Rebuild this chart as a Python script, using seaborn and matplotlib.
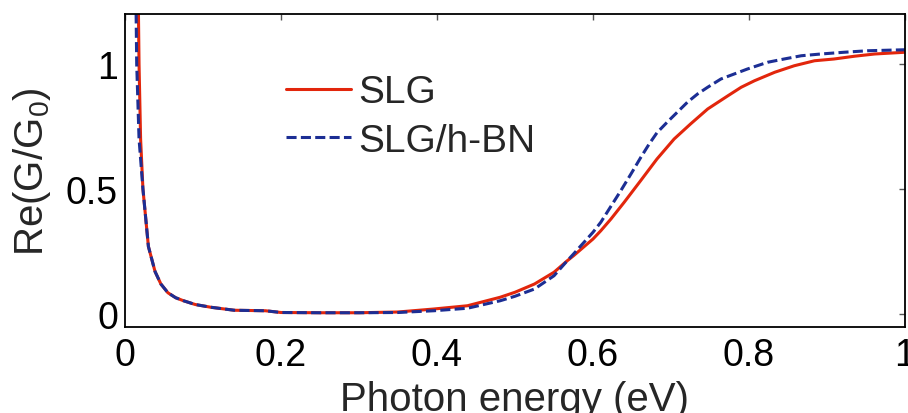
import matplotlib
matplotlib.use("Agg")
import matplotlib.pyplot as plt
import seaborn as sns
import pandas as pd

# ---- data ----
x_slg = [0.0165, 0.0180, 0.0200, 0.0230, 0.0300, 0.0385, 0.0460, 0.0550, 0.0650, 0.0750,
         0.090, 0.110, 0.140, 0.180, 0.200, 0.250, 0.300, 0.350, 0.396, 0.439, 0.481,
         0.500, 0.525, 0.550, 0.567, 0.575, 0.600, 0.610, 0.623, 0.640, 0.661, 0.682,
         0.704, 0.725, 0.747, 0.773, 0.790, 0.807, 0.833, 0.858, 0.884, 0.909, 0.935,
         0.961, 1.000]
y_slg = [1.40, 1.00, 0.70, 0.50, 0.27, 0.17, 0.12, 0.085, 0.065, 0.053,
         0.038, 0.027, 0.015, 0.013, 0.006, 0.005, 0.005, 0.008, 0.020, 0.033, 0.067,
         0.087, 0.120, 0.167, 0.213, 0.233, 0.300, 0.333, 0.380, 0.447, 0.533, 0.620,
         0.700, 0.760, 0.820, 0.873, 0.907, 0.933, 0.967, 0.993, 1.013, 1.020, 1.031,
         1.040, 1.047]

x_hbn = [0.0135, 0.0150, 0.0180, 0.0230, 0.0300, 0.0385, 0.0460, 0.0550, 0.0650, 0.0750,
         0.090, 0.110, 0.140, 0.180, 0.200, 0.250, 0.300, 0.350, 0.396, 0.439, 0.481,
         0.500, 0.525, 0.550, 0.567, 0.575, 0.600, 0.610, 0.635, 0.650, 0.661, 0.672,
         0.682, 0.695, 0.708, 0.721, 0.734, 0.747, 0.764, 0.781, 0.798, 0.824, 0.845,
         0.867, 0.892, 0.922, 0.952, 1.000]
y_hbn = [1.40, 1.00, 0.70, 0.50, 0.27, 0.17, 0.12, 0.085, 0.065, 0.053,
         0.038, 0.027, 0.015, 0.013, 0.006, 0.005, 0.005, 0.006, 0.013, 0.023, 0.053,
         0.071, 0.100, 0.153, 0.213, 0.240, 0.327, 0.367, 0.490, 0.567, 0.625, 0.680,
         0.725, 0.767, 0.807, 0.847, 0.880, 0.907, 0.940, 0.960, 0.980, 1.007, 1.020,
         1.033, 1.040, 1.047, 1.053, 1.057]

series_labels = ["SLG", "SLG/h-BN"]
x_ticks = [0, 0.2, 0.4, 0.6, 0.8, 1]
x_ticklabels = ["0", "0.2", "0.4", "0.6", "0.8", "1"]
y_ticks = [0, 0.5, 1]
y_ticklabels = ["0", "0.5", "1"]

RED = "#E2260C"
BLUE = "#1C2E94"

sns.set_theme(style="white")
plt.rcParams["font.family"] = ["Liberation Sans", "DejaVu Sans"]
plt.rcParams["mathtext.fontset"] = "custom"
plt.rcParams["mathtext.rm"] = "Liberation Sans"
plt.rcParams["mathtext.it"] = "Liberation Sans"

fig = plt.figure(figsize=(9.08, 4.14), dpi=100)
ax = fig.add_axes([125/908, 1 - 328/414, 780/908, 313/414])

df1 = pd.DataFrame({"x": x_slg, "y": y_slg})
df2 = pd.DataFrame({"x": x_hbn, "y": y_hbn})
sns.lineplot(data=df1, x="x", y="y", ax=ax, color=RED, linewidth=2.2,
             label=series_labels[0], estimator=None)
sns.lineplot(data=df2, x="x", y="y", ax=ax, color=BLUE, linewidth=2.2,
             label=series_labels[1], estimator=None)

ax.set_xlim(0, 1)
ax.set_ylim(-0.052, 1.2)
ax.set_xticks(x_ticks)
ax.set_xticklabels(x_ticklabels)
ax.set_yticks(y_ticks)
ax.set_yticklabels(y_ticklabels)
ax.tick_params(direction="in", length=4, width=1, color="#555555",
               top=True, right=True, labelsize=27, pad=7, labelcolor="black")
ax.tick_params(axis="y", pad=5)
for s in ax.spines.values():
    s.set_color("black")
    s.set_linewidth(1.3)

ax.set_xlabel("Photon energy (eV)", fontsize=29, labelpad=5)
ax.set_ylabel(r"Re(G/G$_0$)", fontsize=29)
ax.yaxis.set_label_coords(-0.092, 0.5)

leg = ax.legend(loc="upper left", bbox_to_anchor=(0.207, 0.807), frameon=False,
                fontsize=28, handlelength=1.65, handletextpad=0.2,
                labelspacing=0.32, borderpad=0, borderaxespad=0)
ax.lines[1].set_dashes([3.3, 1.4])
leg.get_lines()[1].set_dashes([3.3, 1.4])

fig.savefig("out.png", dpi=100)
